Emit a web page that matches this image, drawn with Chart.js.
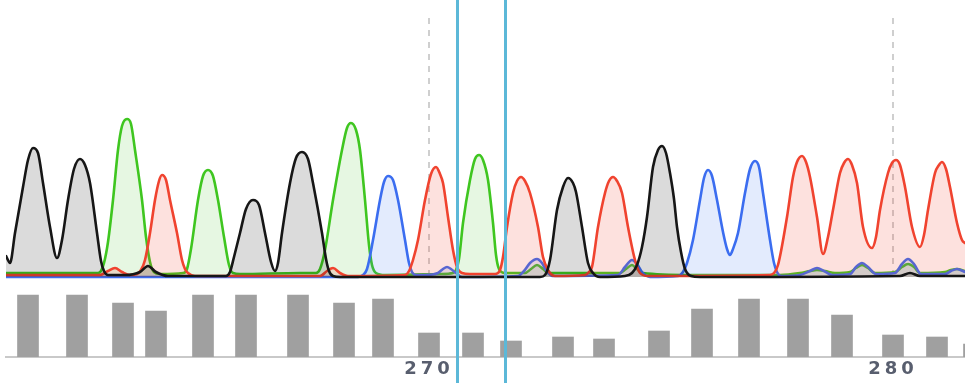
<!DOCTYPE html>
<html>
<head>
<meta charset="utf-8">
<script src="https://cdn.jsdelivr.net/npm/chart.js@4.4.1/dist/chart.umd.min.js"></script>
<style>
  html, body { margin: 0; padding: 0; background: #ffffff; }
  #wrap { width: 965px; height: 383px; }
</style>
</head>
<body>
<div id="wrap"><canvas id="trace" width="965" height="383"></canvas></div>
<script>
// Sanger trace window, bases 261–282. Scan position vs. signal for each channel.
const traceA = [ // green
  [6,4],[98,4],[101,6],[104,14],[108,35],[113,77],[118,127],[122,151],[127,158],[131,153],[135,127],[142,77],[146,40],[150,15],[154,5],
  [160,3],[183,4],[187,8],[191,28],[198,77],[203,101],[208,107],[213,101],[218,77],[224,40],[229,12],[233,4],
  [240,3],[300,4],[316,4],[320,8],[325,27],[333,77],[342,127],[347,149],[351,154],[356,147],[360,127],[365,77],[369,32],[372,12],[376,4],
  [385,2],[440,3],[453,4],[456,7],[459,18],[463,54],[470,97],[475,118],[479,122],[483,117],[488,97],[493,54],[496,22],[499,8],[505,4],
  [525,4],[531,8],[537,12],[543,8],[548,4],[620,4],[626,8],[632,12],[637,8],[643,4],[690,2],[780,2],[800,4],[810,6],[817,7],[825,6],[835,4],
  [850,5],[856,9],[862,12],[868,9],[875,4],[895,5],[902,10],[908,13],[914,10],[920,4],[945,5],[951,7],[957,8],[965,6]
];
const traceC = [ // blue
  [6,0],[358,0],[363,2],[367,8],[373,37],[380,77],[384,95],[388,101],[393,97],[398,77],[405,37],[409,14],[412,5],[416,2],
  [425,2],[438,4],[443,8],[447,10],[451,8],[456,4],[462,0],[518,1],[524,6],[530,14],[537,18],[542,14],[546,7],[552,1],
  [618,2],[625,10],[632,17],[637,13],[642,5],[650,0],[678,1],[683,5],[687,14],[693,37],[700,77],[704,99],[708,107],[712,101],[717,77],
  [723,45],[727,28],[730,22],[733,28],[738,44],[745,84],[750,108],[755,116],[759,110],[763,84],[770,37],[774,14],[777,5],[781,1],
  [800,2],[810,6],[817,9],[824,6],[832,2],[850,3],[856,10],[862,14],[868,10],[876,3],[895,4],[902,13],[908,18],[914,13],[921,3],
  [945,3],[951,6],[957,8],[965,5]
];
const traceG = [ // black
  [6,21],[10,14],[15,44],[23,90],[28,117],[33,129],[38,124],[43,94],[50,50],[57,19],
  [62,37],[68,77],[74,108],[80,118],[85,112],[90,94],[97,44],[101,16],[104,6],[108,2],[125,2],[140,5],[148,11],[156,5],[168,1],
  [226,1],[230,5],[234,20],[240,44],[246,68],[253,77],[259,72],[265,44],[271,15],[275,6],[278,14],
  [282,44],[290,94],[296,119],[302,125],[308,118],[313,94],[322,44],[326,18],[329,6],[333,1],[340,0],
  [540,0],[545,2],[550,17],[557,67],[563,90],[568,99],[573,94],[576,85],[582,50],[588,14],[593,4],[600,0],
  [625,1],[632,4],[637,12],[642,30],[647,60],[653,110],[658,127],[662,131],[666,124],[670,104],[674,78],[677,50],[681,25],[685,8],[691,1],[700,0],
  [900,1],[910,4],[920,1],[965,1]
];
const traceT = [ // red
  [6,2],[100,2],[108,6],[115,9],[122,5],[130,2],[137,3],[141,7],[145,17],[150,44],[155,77],[159,96],[162,102],[166,97],[170,77],[177,44],[182,17],[185,8],[188,4],
  [195,1],[320,1],[327,6],[333,9],[340,4],[348,1],[405,2],[409,6],[413,17],[418,37],[425,77],[431,103],[436,110],[440,103],[443,94],[448,60],[453,27],[457,10],[462,4],
  [470,3],[495,3],[500,7],[503,20],[507,50],[513,84],[517,96],[521,100],[525,96],[530,84],[538,50],[543,20],[548,7],
  [555,1],[585,2],[589,5],[592,10],[598,50],[605,84],[609,96],[613,100],[617,96],[622,84],[628,50],[635,17],[640,4],[648,1],
  [770,2],[774,4],[778,12],[787,60],[793,100],[797,115],[802,121],[806,115],[810,100],[817,60],[823,23],
  [828,40],[833,67],[840,104],[844,114],[848,118],[852,112],[857,94],[863,50],[872,29],
  [876,40],[880,67],[888,104],[892,114],[896,117],[900,112],[905,90],[912,50],[920,30],
  [924,42],[928,67],[935,104],[939,112],[942,115],[946,108],[950,90],[957,54],[962,37],[965,34]
];

// Called bases: position on the scan axis, base number and quality value.
const basePositions = [28, 77, 123, 156, 203, 246, 298, 344, 383, 429, 473,
                       511, 563, 604, 659, 702, 749, 798, 842, 893, 937, 974];
const baseNumbers = [261, 262, 263, 264, 265, 266, 267, 268, 269, 270, 271,
                     272, 273, 274, 275, 276, 277, 278, 279, 280, 281, 282];
const qualities = [62, 62, 54, 46, 62, 62, 62, 54, 58, 24, 24,
                   16, 20, 18, 26, 48, 58, 58, 42, 22, 20, 13];

// Base numbers that get a ruler label and a dashed guide.
const labelledBases = [270, 280];
// Selected region (scan positions of the two cursor lines).
const selection = [456.5, 504.5];

const labelledPositions = labelledBases.map(n => basePositions[baseNumbers.indexOf(n)]);
const toPoints = arr => arr.map(([x, y]) => ({ x, y }));

function traceDataset(label, data, line, fill, order) {
  return {
    type: 'line', label, data: toPoints(data), yAxisID: 'yTrace',
    borderColor: line, backgroundColor: fill, fill: 'origin',
    borderWidth: 2.6, pointRadius: 0, cubicInterpolationMode: 'monotone',
    borderJoinStyle: 'round', borderCapStyle: 'round', order
  };
}

const guideTop = 259;
const guides = labelledPositions.map(p => ({
  type: 'line', data: [{ x: p, y: guideTop }, { x: p, y: 4 }], yAxisID: 'yTrace',
  borderColor: '#cfcfcf', borderWidth: 2, borderDash: [6, 6], pointRadius: 0, fill: false, order: 9
}));

const rulerText = {
  id: 'rulerText',
  beforeDraw(chart) { chart.ctx.letterSpacing = '4px'; },
  afterDraw(chart) { chart.ctx.letterSpacing = '0px'; }
};

const cursors = {
  id: 'cursors',
  afterDraw(chart) {
    const { ctx, scales: { x } } = chart;
    ctx.save();
    ctx.strokeStyle = '#5cb8d8';
    ctx.lineWidth = 3;
    selection.forEach(v => {
      const px = Math.round(x.getPixelForValue(v)) + 0.5;
      ctx.beginPath();
      ctx.moveTo(px, 0);
      ctx.lineTo(px, chart.height);
      ctx.stroke();
    });
    ctx.restore();
  }
};

new Chart(document.getElementById('trace'), {
  type: 'line',
  data: {
    datasets: [
      {
        type: 'bar', data: basePositions.map((x, i) => ({ x, y: qualities[i] })),
        yAxisID: 'yQual', backgroundColor: '#a0a0a0', borderWidth: 0,
        barThickness: 21, order: 10
      },
      ...guides,
      traceDataset('A', traceA, '#3fc620', 'rgba(64,197,32,0.13)', 4),
      traceDataset('C', traceC, '#3b6df0', 'rgba(60,111,240,0.14)', 3),
      traceDataset('T', traceT, '#f0432f', 'rgba(240,70,50,0.16)', 2),
      traceDataset('G', traceG, '#161616', 'rgba(0,0,0,0.14)', 1)
    ]
  },
  options: {
    responsive: false,
    animation: false,
    devicePixelRatio: 1,
    layout: { padding: { left: 6, right: 0, top: 0, bottom: 0 } },
    plugins: { legend: { display: false }, tooltip: { enabled: false } },
    scales: {
      x: {
        type: 'linear', min: 6, max: 965, offset: false,
        grid: { display: false, drawTicks: false, offset: false },
        border: { display: true, color: '#c9c9c9', width: 2 },
        afterBuildTicks: scale => { scale.ticks = labelledPositions.map(v => ({ value: v })); },
        afterFit: scale => { scale.height = 26; },
        ticks: {
          autoSkip: false, maxRotation: 0, padding: 2, color: '#585e6e',
          font: { family: 'DejaVu Sans', size: 18, weight: 'bold' },
          callback: (v, i) => String(labelledBases[i])
        }
      },
      yTrace: { type: 'linear', display: false, min: -80, max: 277 },
      yQual: { type: 'linear', display: false, min: 0, max: 357 }
    }
  },
  plugins: [rulerText, cursors]
});
</script>
</body>
</html>
